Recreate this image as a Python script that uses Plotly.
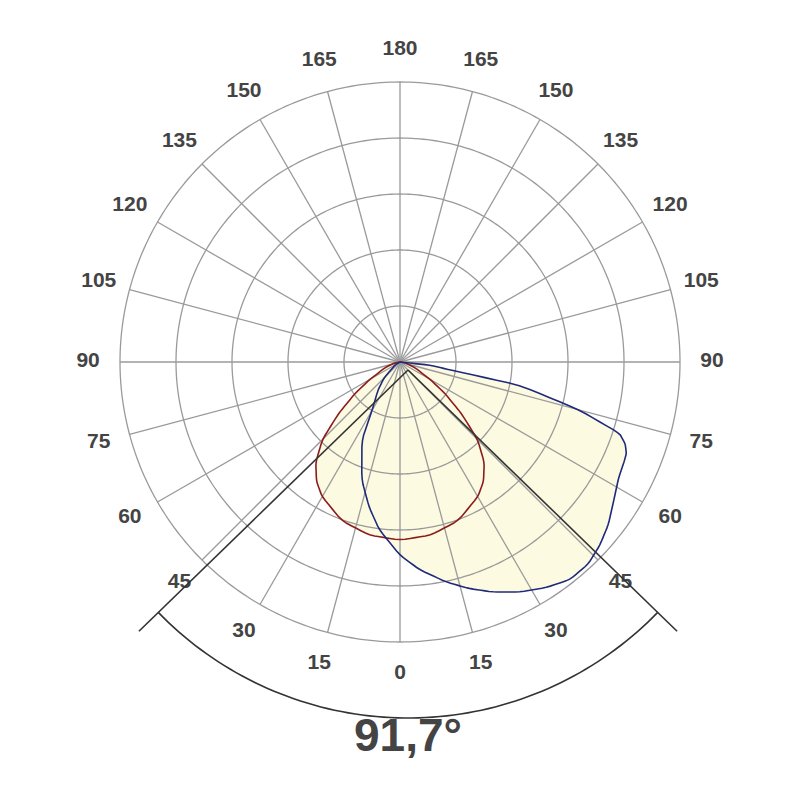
import numpy as np
import plotly.graph_objects as go

# gamma angle (deg) -> relative intensity (grid units)
red_gamma = [0, 10, 20, 30, 35, 40, 45, 50, 55, 60, 70, 80, 90]
red_r = [3.18, 3.14, 3.02, 2.78, 2.6, 2.34, 1.96, 1.43, 0.98, 0.62, 0.27, 0.09, 0.0]

blue_gamma = [-90, -60, -45, -38, -30, -26, -18, -12, -7, 0, 5.5, 12, 17, 22, 27.5, 33, 38, 43, 47.5, 52, 57, 62, 66, 68, 70, 72, 75, 79, 81, 84, 90]
blue_r = [0.0, 0.1, 0.4, 0.64, 1.0, 1.55, 2.21, 2.65, 3.02, 3.45, 3.73, 4.02, 4.23, 4.43, 4.63, 4.8, 4.93, 4.93, 4.84, 4.72, 4.55, 4.42, 4.38, 4.36, 4.28, 4.12, 3.32, 2.18, 0.91, 0.54, 0.0]

beam_angle = 91.7
label_angles = list(range(0, 181, 15))

def th(g):
    return [x % 360 for x in g]

def smooth(g, r, n=6):
    gg = np.interp(np.linspace(0, len(g) - 1, (len(g) - 1) * n + 1), np.arange(len(g)), g)
    # catmull-like smoothing via polar -> cartesian spline-free interpolation
    x = np.array(r) * np.sin(np.radians(g)); y = np.array(r) * np.cos(np.radians(g))
    idx = np.arange(len(g)); s = np.linspace(0, len(g) - 1, (len(g) - 1) * n + 1)
    from numpy.polynomial import polynomial as P
    xs = np.interp(s, idx, x); ys = np.interp(s, idx, y)
    # light moving-average smoothing
    k = np.ones(3) / 3
    xs[1:-1] = np.convolve(xs, k, mode="same")[1:-1]; ys[1:-1] = np.convolve(ys, k, mode="same")[1:-1]
    return list(np.degrees(np.arctan2(xs, ys))), list(np.hypot(xs, ys))

rg = [-g for g in red_gamma[::-1]] + red_gamma[1:]
rr = red_r[::-1] + red_r[1:]
rg_s, rr_s = smooth(rg, rr)
bg_s, br_s = smooth(blue_gamma, blue_r)

fig = go.Figure()
fill = "#fdfae2"
fig.add_trace(go.Scatterpolar(r=rr_s, theta=th(rg_s), mode="lines", fill="toself",
                              fillcolor=fill, line=dict(width=0, color=fill)))
fig.add_trace(go.Scatterpolar(r=br_s, theta=th(bg_s), mode="lines", fill="toself",
                              fillcolor=fill, line=dict(width=0, color=fill)))
grid = "#9a9a9a"
t = np.linspace(0, 360, 361)
for k in range(1, 6):
    fig.add_trace(go.Scatterpolar(r=[k]*len(t), theta=t, mode="lines", line=dict(color=grid, width=1.3)))
for a in range(0, 360, 15):
    fig.add_trace(go.Scatterpolar(r=[0, 5], theta=[a, a], mode="lines", line=dict(color=grid, width=1.3)))
fig.add_trace(go.Scatterpolar(r=rr_s, theta=th(rg_s), mode="lines", line=dict(color="#8b1c1c", width=1.6)))
fig.add_trace(go.Scatterpolar(r=br_s, theta=th(bg_s), mode="lines", line=dict(color="#1f2a7a", width=1.6)))

lt, ltxt = [], []
for g in label_angles:
    lt.append(g); ltxt.append(str(g))
    if 0 < g < 180:
        lt.append(360 - g); ltxt.append(str(g))
fig.add_trace(go.Scatterpolar(r=[5.57]*len(lt), theta=lt, mode="text", text=ltxt,
                              textfont=dict(family="Liberation Sans", size=21, color="#444444", weight="bold"),
                              cliponaxis=False))

# beam-angle marker (outside the polar range), derived from beam_angle
W = 800.0
cx, cy = 400.0, 362.0
h = np.radians(beam_angle / 2)
bc = "#333333"
shapes = []
for s in (h, -h):
    x1 = cx + 375 * np.sin(s); y1 = cy + 375 * np.cos(s)
    shapes.append(dict(type="line", xref="paper", yref="paper", x0=cx / W, y0=1 - cy / W,
                       x1=x1 / W, y1=1 - y1 / W, line=dict(color=bc, width=1.6), layer="above"))
arc = np.linspace(-h, h, 80)
pts = [(((cx + 348 * np.sin(a)) / W), 1 - (cy + 348 * np.cos(a)) / W) for a in arc]
path = "M " + " L ".join(f"{x:.5f},{y:.5f}" for x, y in pts)
shapes.append(dict(type="path", xref="paper", yref="paper", path=path, line=dict(color=bc, width=1.6)))

fig.update_layout(
    width=800, height=800, margin=dict(l=0, r=0, t=0, b=0), showlegend=False,
    paper_bgcolor="white", shapes=shapes,
    polar=dict(
        domain=dict(x=[0.098, 0.882], y=[0.1655, 0.9495]),
        bgcolor="rgba(0,0,0,0)",
        radialaxis=dict(range=[0, 5.6], visible=False, showgrid=False),
        angularaxis=dict(rotation=270, direction="counterclockwise", visible=False, showgrid=False),
    ),
    annotations=[dict(text="<b>91,7°</b>", x=0.5, y=0.056, xref="paper", yref="paper", showarrow=False,
                      font=dict(family="Liberation Sans", size=46, color="#444444"))],
)
fig.write_html("out.html")
